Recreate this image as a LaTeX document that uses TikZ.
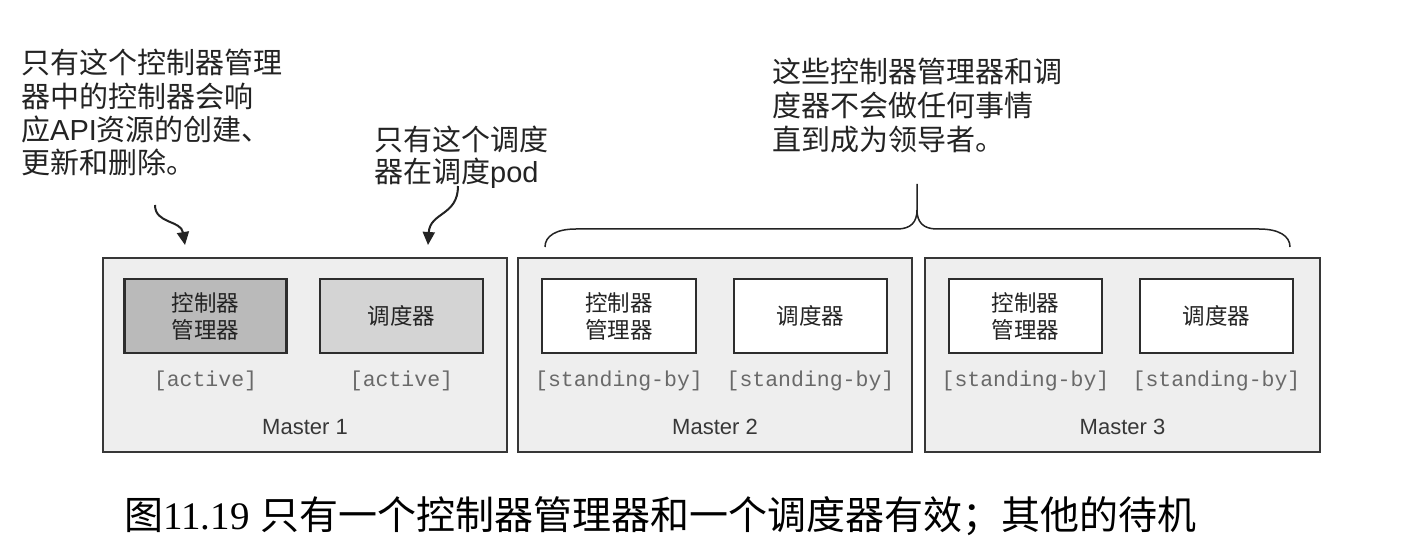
\documentclass[tikz,border=0pt]{standalone}
\usepackage{fontspec}
\setmainfont{Liberation Sans}
\newfontfamily\cjk{Noto Sans CJK SC}
\newfontfamily\monof{Liberation Mono}
\newfontfamily\seriff{Liberation Serif}
\usetikzlibrary{arrows.meta}
\definecolor{mfill}{RGB}{238,238,238}
\definecolor{mborder}{RGB}{55,55,55}
\definecolor{cmact}{RGB}{186,186,186}
\definecolor{sact}{RGB}{212,212,212}
\definecolor{boxborder}{RGB}{45,45,45}
\definecolor{statusc}{RGB}{105,105,105}
\definecolor{labelc}{RGB}{55,55,55}
\definecolor{textc}{RGB}{35,35,35}
\begin{document}
\begin{tikzpicture}[x=1pt,y=-1pt,
  master/.style={draw=mborder, fill=mfill, line width=2.1pt, inner sep=0pt, minimum height=194pt},
  inbox/.style={draw=boxborder, line width=2.1pt, inner sep=0pt, minimum height=74pt, align=center,
     text=textc, font=\fontsize{22.5}{27}\selectfont\cjk},
  status/.style={anchor=base, inner sep=0pt, text=statusc, font=\fontsize{21.5}{24}\selectfont\monof},
  mlabel/.style={anchor=base, inner sep=0pt, text=labelc, font=\fontsize{22}{26}\selectfont},
  note/.style={anchor=base west, inner sep=0pt, text=textc, font=\fontsize{29}{33}\selectfont\cjk},
  arr/.style={draw=textc, line width=2pt, -{Triangle[width=12pt,length=13pt]}},
  brace/.style={draw=textc, line width=1.5pt}
]
\useasboundingbox (0,0) rectangle (1410,553);
\fill[white] (0,0) rectangle (1410,553);

% master boxes
\node[master, minimum width=404pt] (m1) at (305,355) {};
\node[master, minimum width=394pt] (m2) at (715,355) {};
\node[master, minimum width=395pt] (m3) at (1122.5,355) {};

% inner boxes
\node[inbox, fill=cmact, minimum width=162pt] (cm1) at (205.5,316) {控制器\\管理器};
\node[inbox, fill=sact, minimum width=163pt] (s1) at (401.5,316) {调度器};
\node[inbox, fill=white, minimum width=154pt] (cm2) at (619,316) {控制器\\管理器};
\node[inbox, fill=white, minimum width=153pt] (s2) at (810.5,316) {调度器};
\node[inbox, fill=white, minimum width=153pt] (cm3) at (1025.5,316) {控制器\\管理器};
\node[inbox, fill=white, minimum width=153pt] (s3) at (1216.5,316) {调度器};

% status labels
\node[status] (st1) at (205.5,386.5) {[active]};
\node[status] (st2) at (401.5,386.5) {[active]};
\node[status] (st3) at (619,386.5) {[standing-by]};
\node[status] (st4) at (810.5,386.5) {[standing-by]};
\node[status] (st5) at (1025.5,386.5) {[standing-by]};
\node[status] (st6) at (1216.5,386.5) {[standing-by]};

% master labels
\node[mlabel] (ml1) at (305,434) {Master 1};
\node[mlabel] (ml2) at (715,434) {Master 2};
\node[mlabel] (ml3) at (1122.5,434) {Master 3};

% annotation 1
\node[note] (n1a) at (21,74) {只有这个控制器管理};
\node[note] (n1b) at (21,108) {器中的控制器会响};
\node[note] (n1c) at (21,141) {应{\rmfamily API}资源的创建、};
\node[note] (n1d) at (21,174) {更新和删除。};

% annotation 2
\node[note] (n2a) at (374,151) {只有这个调度};
\node[note] (n2b) at (374,183) {器在调度{\rmfamily pod}};

% annotation 3
\node[note] (n3a) at (772,83) {这些控制器管理器和调};
\node[note] (n3b) at (772,117) {度器不会做任何事情};
\node[note] (n3c) at (772,151) {直到成为领导者。};

% arrows
\coordinate (a1s) at (155,205);
\coordinate (a1e) at (185,245);
\coordinate (a2s) at (458,186);
\coordinate (a2e) at (428,245);
\draw[arr] (a1s) .. controls (155,224) and (181,220) .. (a1e);
\draw[arr] (a2s) .. controls (458,216) and (430,212) .. (a2e);

% brace
\draw[brace] (545,247) .. controls (545,236) and (556,229) .. (576,229)
  -- (897,229) .. controls (911,229) and (917,222) .. (917,210) -- (917,184);
\draw[brace] (917,210) .. controls (917,222) and (923,229) .. (937,229)
  -- (1259,229) .. controls (1279,229) and (1290,236) .. (1290,247);

% caption
\node[anchor=base west, inner sep=0pt, text=black, font=\fontsize{39}{42}\selectfont] (cap) at (124,529)
  {{\cjk 图}{\seriff 11.19} {\cjk 只有一个控制器管理器和一个调度器有效；其他的待机}};
\end{tikzpicture}
\end{document}
